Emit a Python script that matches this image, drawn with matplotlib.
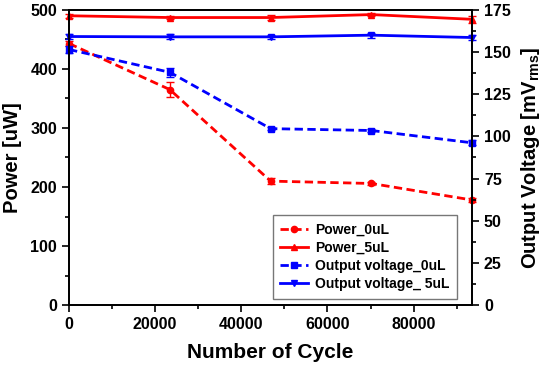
import matplotlib
matplotlib.use('Agg')
import matplotlib.pyplot as plt
from matplotlib.ticker import MultipleLocator

plt.rcParams['font.family'] = ['Liberation Sans', 'DejaVu Sans']
plt.rcParams['font.weight'] = 'bold'

cycles = [0, 23400, 46800, 70200, 93600]
power_0ul = [443, 365, 210, 206, 178]
power_0ul_err = [4, 13, 5, 3, 4]
power_5ul = [490, 487, 487, 492, 484]
power_5ul_err = [3, 3, 5, 3, 6]
volt_0ul = [151.5, 138.0, 104.6, 103.5, 96.2]
volt_0ul_err = [2.0, 2.5, 1.0, 1.0, 1.5]
volt_5ul = [159.2, 159.0, 159.0, 160.0, 158.6]
volt_5ul_err = [1.5, 1.5, 1.0, 1.5, 1.5]

fig = plt.figure(figsize=(5.5, 3.65), dpi=100)
ax = fig.add_axes([0.1255, 0.164, 0.733, 0.809])
ax2 = ax.twinx()

red = '#ff0000'
blue = '#0000ff'
dash = (3, 1.6)
l1 = ax.errorbar(cycles, power_0ul, yerr=power_0ul_err, color=red, ls='--', dashes=dash, lw=2,
                 marker='o', ms=4.5, capsize=3, elinewidth=1, clip_on=False)
l2 = ax.errorbar(cycles, power_5ul, yerr=power_5ul_err, color=red, ls='-', lw=2,
                 marker='^', ms=5, capsize=3, elinewidth=1, clip_on=False)
l3 = ax2.errorbar(cycles, volt_0ul, yerr=volt_0ul_err, color=blue, ls='--', dashes=dash, lw=2,
                  marker='s', ms=4.5, capsize=3, elinewidth=1, clip_on=False)
l4 = ax2.errorbar(cycles, volt_5ul, yerr=volt_5ul_err, color=blue, ls='-', lw=2,
                  marker='v', ms=5, capsize=3, elinewidth=1, clip_on=False)

ax.set_xlim(0, 93600)
ax.set_ylim(0, 500)
ax2.set_ylim(0, 175)
ax.xaxis.set_major_locator(MultipleLocator(20000))
ax.xaxis.set_minor_locator(MultipleLocator(10000))
ax.yaxis.set_major_locator(MultipleLocator(100))
ax.yaxis.set_minor_locator(MultipleLocator(50))
ax2.yaxis.set_major_locator(MultipleLocator(25))
ax2.yaxis.set_minor_locator(MultipleLocator(12.5))

for a in (ax, ax2):
    a.tick_params(which='major', length=5, width=1.2, labelsize=11.5)
    a.tick_params(which='minor', length=3, width=1.2)
    for s in a.spines.values():
        s.set_linewidth(1.3)

ax.set_xlabel('Number of Cycle', fontsize=15, fontweight='bold', labelpad=8)
ax.set_ylabel('Power [uW]', fontsize=14.5, fontweight='bold', labelpad=6)
ax2.set_ylabel('Output Voltage [mV$_{\\mathregular{rms}}$]', fontsize=14.5, fontweight='bold', labelpad=6)

labels = ['Power_0uL', 'Power_5uL', 'Output voltage_0uL', 'Output voltage_ 5uL']
leg = ax2.legend([l1[0], l2[0], l3[0], l4[0]], labels,
                 loc='lower left', bbox_to_anchor=(0.505, 0.022), fontsize=10, frameon=True,
                 fancybox=False, edgecolor='#555555', handlelength=2.0, borderpad=0.55,
                 labelspacing=0.3, handletextpad=0.5, borderaxespad=0)
leg.get_frame().set_linewidth(1)

fig.savefig('out.png', dpi=100)
